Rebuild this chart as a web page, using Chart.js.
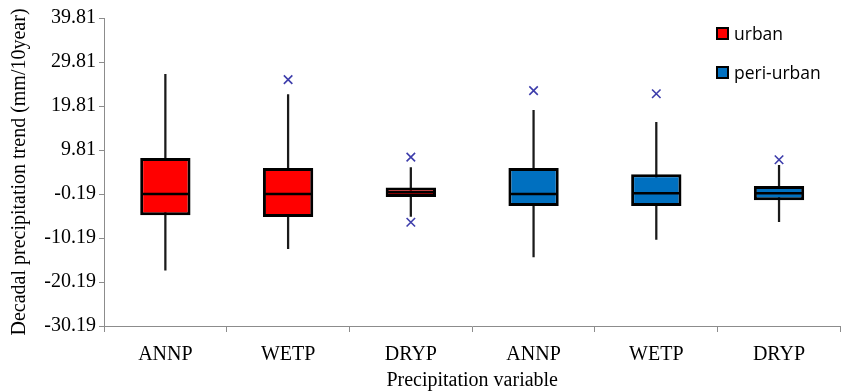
<!DOCTYPE html>
<html>
<head>
<meta charset="utf-8">
<script src="https://cdn.jsdelivr.net/npm/chart.js@4/dist/chart.umd.min.js"></script>
<style>
  body { margin: 0; background: #fff; }
  #wrap { position: relative; width: 848px; height: 391px; }
  #legend { position: absolute; left: 716px; top: 22px; font-family: "Open Sans", sans-serif; font-size: 17.5px; color: #000; }
  #legend .item { display: flex; align-items: center; height: 22px; margin-bottom: 17px; }
  #legend .sw { width: 9px; height: 9px; border: 2px solid #000; margin-right: 5px; }
</style>
</head>
<body>
<div id="wrap">
  <canvas id="boxChart"></canvas>
  <div id="legend"></div>
</div>
<script>
// Categories and y tick labels
const categories = ["ANNP", "WETP", "DRYP", "ANNP", "WETP", "DRYP"];
const yTicks = [-30.19, -20.19, -10.19, -0.19, 9.81, 19.81, 29.81, 39.81];
// Which series each box belongs to (0 = urban, 1 = peri-urban)
const seriesNames = ["urban", "peri-urban"];
const seriesColors = ["#FF0000", "#0070C0"];
const seriesOf = [0, 0, 0, 1, 1, 1];
// Box statistics
const whiskerLow = [-17.5, -12.6, -5.3, -14.5, -10.5, -6.5];
const q1 = [-5.0, -5.4, -0.9, -2.9, -2.9, -1.6];
const median = [-0.2, -0.2, 0.2, -0.2, 0.0, 0.0];
const q3 = [8.0, 5.7, 1.3, 5.7, 4.3, 1.6];
const whiskerHigh = [27.0, 22.4, 5.8, 18.8, 16.1, 6.3];
const outlierHigh = [null, 25.8, 8.2, 23.3, 22.6, 7.6];
const outlierLow = [null, null, -6.6, null, null, null];

const serif = "'Liberation Serif', 'Times New Roman', serif";

// Box datasets, one per series
const boxSets = seriesNames.map((name, s) => ({
    type: "bar",
    label: name,
    data: categories.map((c, i) => (seriesOf[i] === s ? [q1[i], q3[i]] : null)),
    backgroundColor: seriesColors[s],
    borderColor: "#000",
    borderWidth: 3,
    borderSkipped: false,
    barPercentage: 0.41,
    categoryPercentage: 1,
    grouped: false,
    order: 2,
    isBox: true,
}));

// Median lines drawn across each box
const medianPlugin = {
    id: "medianLines",
    afterDatasetsDraw(chart) {
        const ctx = chart.ctx;
        const y = chart.scales.y;
        chart.data.datasets.forEach((ds, d) => {
            if (!ds.isBox) return;
            const meta = chart.getDatasetMeta(d);
            meta.data.forEach((el, i) => {
                if (ds.data[i] == null) return;
                const py = y.getPixelForValue(median[i]);
                ctx.save();
                ctx.strokeStyle = "#000";
                ctx.lineWidth = 2.5;
                ctx.beginPath();
                ctx.moveTo(el.x - el.width / 2 + 1, py);
                ctx.lineTo(el.x + el.width / 2 - 1, py);
                ctx.stroke();
                ctx.restore();
            });
        });
    },
};

const outlierStyle = {
    type: "line",
    showLine: false,
    pointStyle: "crossRot",
    pointRadius: 6,
    pointBorderColor: "#3d3dab",
    pointBorderWidth: 1.6,
    order: 1,
};

const ctx = document.getElementById("boxChart").getContext("2d");
const boxChart = new Chart(ctx, {
    type: "bar",
    data: {
        labels: categories,
        datasets: [
            {
                type: "bar",
                label: "whiskers",
                data: categories.map((c, i) => [whiskerLow[i], whiskerHigh[i]]),
                backgroundColor: "#1a1a1a",
                barThickness: 1.6,
                grouped: false,
                order: 3,
            },
            ...boxSets,
            { ...outlierStyle, label: "outliers high", data: outlierHigh },
            { ...outlierStyle, label: "outliers low", data: outlierLow },
        ],
    },
    options: {
        responsive: true,
        maintainAspectRatio: false,
        animation: false,
        layout: { padding: { top: 18, right: 2, left: 0, bottom: 0 } },
        scales: {
            x: {
                offset: true,
                grid: { offset: true, drawOnChartArea: false, tickLength: 6, color: "#8c8c8c" },
                border: { color: "#8c8c8c" },
                ticks: { font: { family: serif, size: 20 }, color: "#000", padding: 11, maxRotation: 0, autoSkip: false },
                title: { display: true, text: "Precipitation variable", font: { family: serif, size: 20, lineHeight: 1 }, color: "#000", padding: 0 },
                afterFit: (scale) => {
                    scale.height = 65;
                    scale.paddingLeft = 0;
                    scale.paddingRight = 0;
                },
            },
            y: {
                min: -30.19,
                max: 39.81,
                afterBuildTicks: (axis) => { axis.ticks = yTicks.map((v) => ({ value: v })); },
                grid: { drawOnChartArea: false, tickLength: 5, color: "#8c8c8c" },
                border: { color: "#8c8c8c" },
                ticks: {
                    font: { family: serif, size: 20 },
                    color: "#000",
                    padding: 3,
                    callback: (v) => Number(v).toFixed(2),
                },
                title: { display: true, text: "Decadal precipitation trend (mm/10year)", font: { family: serif, size: 20, lineHeight: 1 }, color: "#000", padding: { top: 10, bottom: 0 } },
                afterFit: (scale) => { scale.width = 104; },
            },
        },
        plugins: {
            legend: { display: false },
            tooltip: { enabled: false },
        },
    },
    plugins: [medianPlugin],
});

// HTML legend for the two series
const legendEl = document.getElementById("legend");
seriesNames.forEach((name, s) => {
    const item = document.createElement("div");
    item.className = "item";
    item.innerHTML = '<span class="sw" style="background:' + seriesColors[s] + '"></span><span>' + name + "</span>";
    legendEl.appendChild(item);
});
</script>
</body>
</html>
